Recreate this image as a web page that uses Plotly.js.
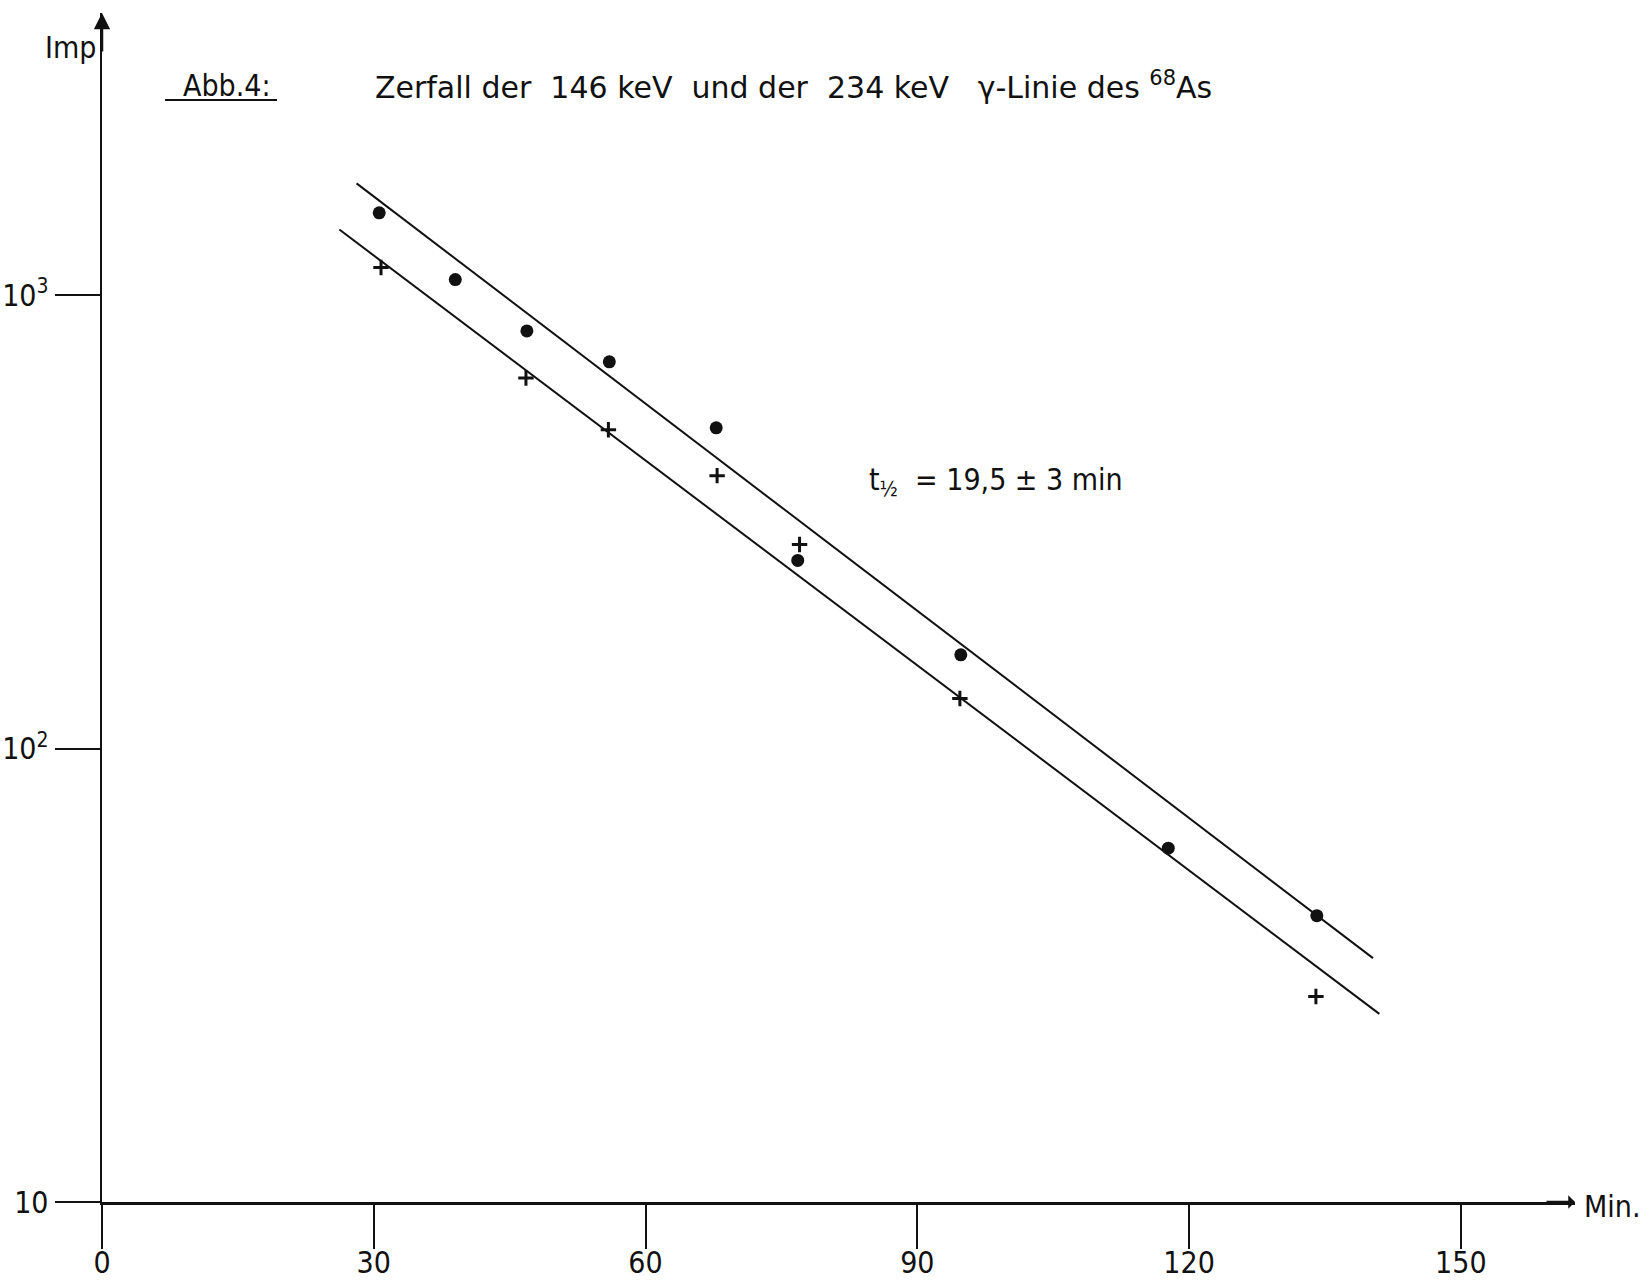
<!DOCTYPE html>
<html>
<head>
<meta charset="utf-8">
<script src="https://cdn.plot.ly/plotly-3.0.1.min.js"></script>
<style>
  html, body { margin: 0; padding: 0; background: #fff; }
  #chart { width: 1646px; height: 1286px; }
</style>
</head>
<body>
<div id="chart"></div>
<script>
// ---- data ----
const dotTimes   = [30.6, 39.0, 46.9, 56.0, 67.8, 76.8, 94.8, 117.7, 134.1];
const dotImp     = [1520, 1083, 834, 713, 510, 260, 161, 60.3, 42.8];
const crossTimes = [30.8, 46.8, 55.9, 67.9, 77.0, 94.7, 134.0];
const crossImp   = [1151, 657, 505, 400, 282, 129, 28.4];
const upperFitTimes = [28.1, 140.3];
const upperFitImp   = [1765, 34.5];
const lowerFitTimes = [26.2, 141.0];
const lowerFitImp   = [1396, 26.0];
const xTickVals = [0, 30, 60, 90, 120, 150];
const xTickText = ['0', '30', '60', '90', '120', '150'];
const yTickVals = [10, 100, 1000];
const yTickText = ['10', '10<sup>2</sup>', '10<sup>3</sup>'];

const FONT = 'DejaVu Sans Condensed, Liberation Sans Narrow, sans-serif';
const FONT_WIDE = 'DejaVu Sans, sans-serif';

const traces = [
  { x: upperFitTimes, y: upperFitImp, mode: 'lines', name: 'Ausgleichsgerade (•)',
    line: { color: '#111', width: 2 }, hoverinfo: 'skip' },
  { x: lowerFitTimes, y: lowerFitImp, mode: 'lines', name: 'Ausgleichsgerade (+)',
    line: { color: '#111', width: 2 }, hoverinfo: 'skip' },
  { x: dotTimes, y: dotImp, mode: 'markers', name: '146 keV',
    marker: { symbol: 'circle', size: 13, color: '#111' } },
  { x: crossTimes, y: crossImp, mode: 'markers', name: '234 keV',
    marker: { symbol: 'cross-thin', size: 11, color: '#111', line: { color: '#111', width: 3 } } }
];

const layout = {
  width: 1646, height: 1286,
  paper_bgcolor: '#fff', plot_bgcolor: '#fff',
  showlegend: false,
  margin: { l: 102, r: 71, t: 13, b: 84, pad: 0 },
  font: { family: FONT, color: '#111', size: 28 },
  title: {
    text: 'Zerfall der&nbsp; 146 keV&nbsp; und der&nbsp; 234 keV&nbsp;&nbsp; γ-Linie des <sup>68</sup>As',
    font: { family: FONT_WIDE, size: 30, color: '#111' },
    x: 0.1853, xref: 'paper', xanchor: 'left',
    y: 1 - 87 / 1286, yref: 'container', yanchor: 'middle'
  },
  xaxis: {
    range: [0, 162.6], showgrid: false, zeroline: false,
    showline: true, linecolor: '#111', linewidth: 2.5,
    ticks: 'outside', ticklen: 44, tickwidth: 2, tickcolor: '#111',
    tickvals: xTickVals, ticktext: xTickText, ticklabelstandoff: -12,
    tickfont: { family: FONT, size: 30, color: '#111' }
  },
  yaxis: {
    type: 'log', range: [1, 3.6225], showgrid: false, zeroline: false,
    showline: true, linecolor: '#111', linewidth: 2.5,
    ticks: 'outside', ticklen: 45, tickwidth: 2, tickcolor: '#111',
    tickvals: yTickVals, ticktext: yTickText,
    tickfont: { family: FONT, size: 30, color: '#111' }
  },
  annotations: [
    { xref: 'paper', yref: 'paper', x: -0.0217, y: 0.9714, text: 'Imp', showarrow: false,
      font: { family: FONT, size: 30 }, xanchor: 'center', yanchor: 'middle' },
    { xref: 'paper', yref: 'paper', x: 0.0852, y: 0.9394, text: 'Abb.4:', showarrow: false,
      font: { family: FONT, size: 30 }, xanchor: 'center', yanchor: 'middle' },
    { xref: 'paper', yref: 'paper', x: 0.5193, y: 0.6056,
      text: 't<sub>½</sub>&nbsp; = 19,5 ± 3 min', showarrow: false,
      font: { family: FONT, size: 30 }, xanchor: 'left', yanchor: 'middle' },
    { xref: 'paper', yref: 'paper', x: 1.0048, y: -0.004, text: 'Min.', showarrow: false,
      font: { family: FONT, size: 30 }, xanchor: 'left', yanchor: 'middle' },
    // axis arrow heads
    { xref: 'paper', yref: 'paper', x: 0, y: 1, text: '', showarrow: true,
      ax: 0, ay: 40, arrowhead: 2, arrowsize: 1.3, arrowwidth: 2.5, arrowcolor: '#111' },
    { xref: 'paper', yref: 'paper', x: 1, y: 0, text: '', showarrow: true,
      ax: -30, ay: 0, arrowhead: 1, arrowsize: 0.9, arrowwidth: 2.5, arrowcolor: '#111' }
  ],
  shapes: [
    { type: 'line', xref: 'paper', yref: 'paper', x0: 0.0428, x1: 0.1188, y0: 0.9268, y1: 0.9268,
      line: { color: '#111', width: 2 } }
  ]
};

Plotly.newPlot('chart', traces, layout, { displayModeBar: false, staticPlot: true });
</script>
</body>
</html>
